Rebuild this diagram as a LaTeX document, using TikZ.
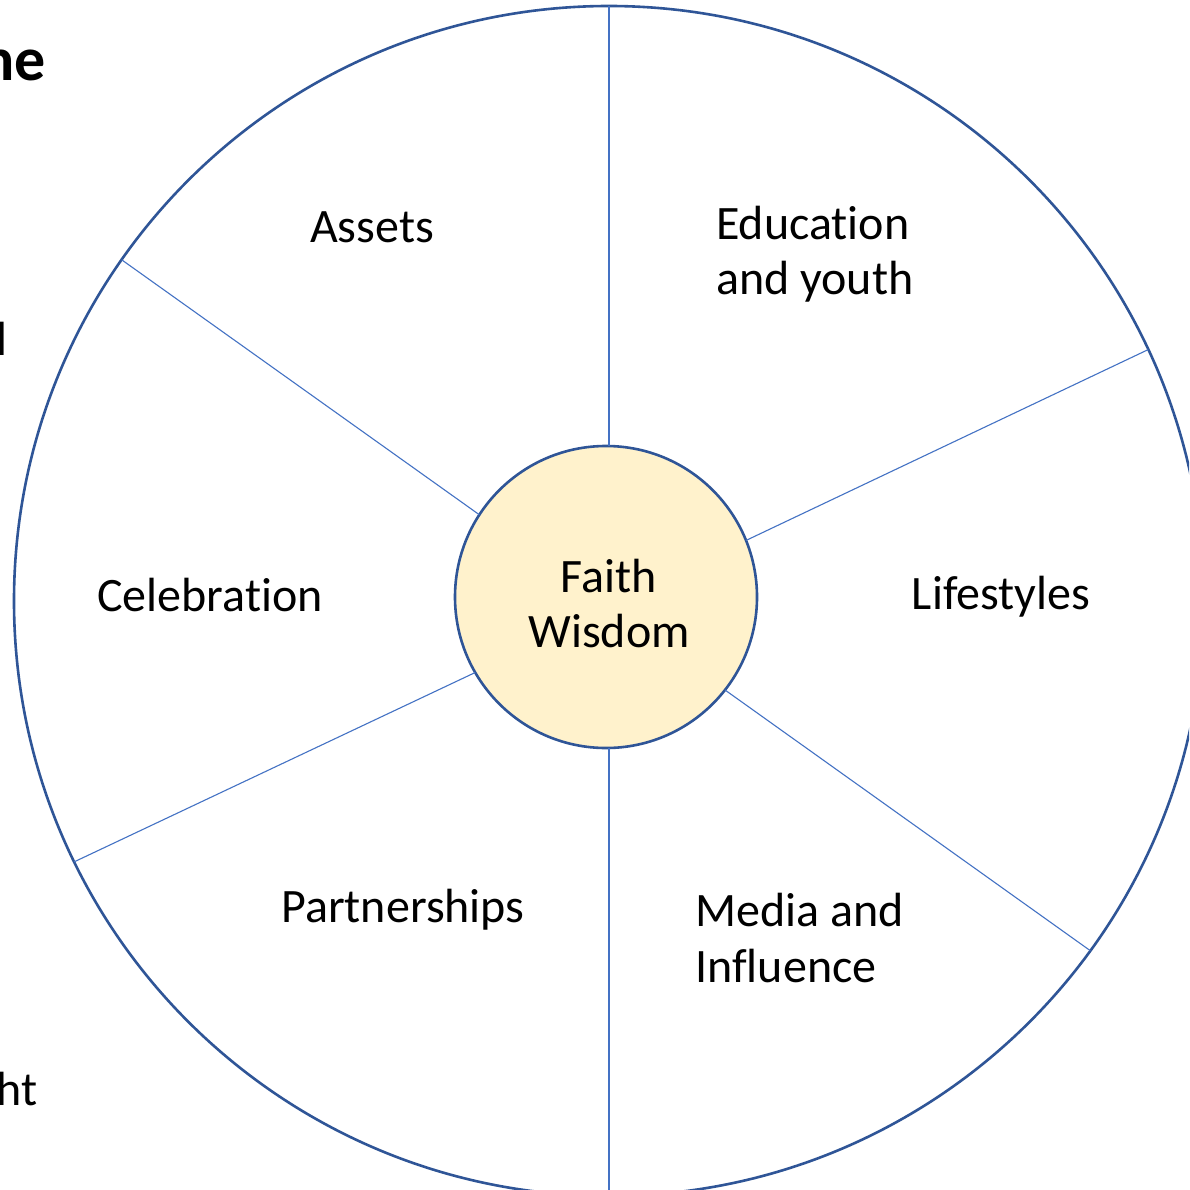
\documentclass[tikz,border=0pt]{standalone}
\usepackage{fontspec}
\setmainfont{Carlito}[Ligatures=NoCommon]
\definecolor{rimblue}{HTML}{2F5597}
\definecolor{spokeblue}{HTML}{4472C4}
\definecolor{hubfill}{HTML}{FFF2CC}
\begin{document}
\begin{tikzpicture}[x=1pt,y=-1pt,
  rim/.style={circle,draw=rimblue,line width=2.6pt,inner sep=0pt,outer sep=0pt},
  spoke/.style={draw=spokeblue,line width=1.1pt},
  label/.style={font=\fontsize{48}{55}\selectfont,inner sep=0pt,align=left},
  sidetext/.style={font=\fontsize{48}{55}\selectfont,inner sep=0pt,anchor=base east}]
  \clip (0,0) rectangle (1189,1190);
  \fill[white] (0,0) rectangle (1189,1190);

  % outer wheel and central hub
  \node[rim,minimum size=1190pt] (outer) at (609,601) {};
  \node[rim,fill=hubfill,minimum size=302pt] (hub) at (606,597) {};

  % spokes
  \draw[spoke] (hub.north -| outer.north) -- (outer.north);
  \draw[spoke] (hub.south -| outer.south) -- (outer.south);
  \draw[spoke] (hub.147) -- (outer.145.1);
  \draw[spoke] (hub.22) -- (outer.25.65);
  \draw[spoke] (hub.-38.6) -- (outer.-36.3);
  \draw[spoke] (hub.210.6) -- (outer.206.8);

  % hub text
  \node[label,align=center] (core) at (609,604) {Faith\\Wisdom};

  % segment labels
  \node[label] (assets) at (372,227) {Assets};
  \node[label,anchor=west] (edu) at (716,254) {Education\\and youth};
  \node[label] (celeb) at (210,595) {Celebration};
  \node[label] (life) at (1001,597) {Lifestyles};
  \node[label] (partner) at (403,910) {Partnerships};
  \node[label,anchor=west] (media) at (695,938) {Media and\\Influence};

  % text running in from the left edge
  \node[sidetext,font=\fontsize{62}{70}\selectfont\bfseries] (sidea) at (46,81) {ne};
  \node[sidetext] (sideb) at (8,355) {l};
  \node[sidetext] (sidec) at (38,1105) {ht};
\end{tikzpicture}
\end{document}
